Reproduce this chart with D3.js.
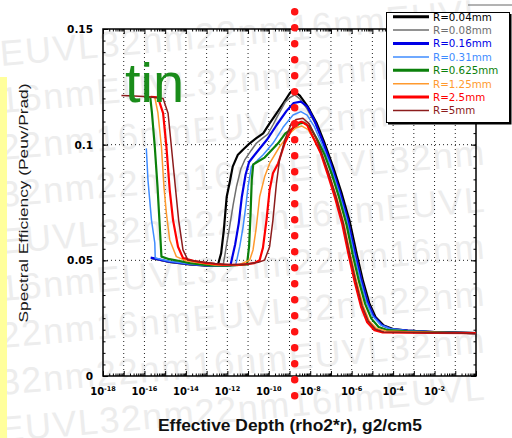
<!DOCTYPE html>
<html>
<head>
<meta charset="utf-8">
<script src="https://cdn.jsdelivr.net/npm/d3@7"></script>
<style>
body{margin:0;background:#fff;}
svg{display:block;font-family:"Liberation Sans",Arial,sans-serif;}
</style>
</head>
<body>
<div id="plot"></div>
<script>
//Spectral efficiency vs effective depth for tin, several radii

//series labels and colours
var labels = ['R=0.04mm','R=0.08mm','R=0.16mm','R=0.31mm','R=0.625mm','R=1.25mm','R=2.5mm','R=5mm'];
var colors = ['#000000','#6e6e6e','#0000e6','#3f8cff','#0b800b','#ff9a2e','#ff0000','#8c1c1c'];
var thick  = [true,false,true,false,true,false,true,false];

//each series: [log10 effective depth (g2/cm5), spectral efficiency]
var r004 = [[-15.65,0.0510],[-14.8,0.0493],[-13.8,0.0482],[-12.85,0.0476],[-12.46,0.0479],[-12.3,0.053],[-12.17,0.063],
  [-12.03,0.0775],[-11.89,0.0835],[-11.74,0.0905],[-11.5,0.0955],[-11.26,0.0977],[-10.92,0.1006],[-10.6,0.1028],
  [-10.27,0.1049],[-9.96,0.1092],[-9.62,0.1136],[-9.3,0.1179],[-8.99,0.1222],[-8.84,0.1236],[-8.5,0.1212],
  [-8.1,0.1162],[-7.7,0.1095],[-7.3,0.1005],[-6.9,0.0905],[-6.5,0.0795],[-6.1,0.067],[-5.75,0.0525],[-5.45,0.041],
  [-5.15,0.0315],[-4.85,0.0255],[-4.45,0.0218],[-4.0,0.0203],[-3.3,0.0196],[-2.0,0.0190],[0,0.0185]];
var r008 = [[-15.65,0.0508],[-14.8,0.0492],[-13.8,0.0481],[-12.85,0.0476],[-12.2,0.0478],[-12.05,0.056],[-11.89,0.0645],
  [-11.72,0.074],[-11.56,0.0818],[-11.35,0.0895],[-11.16,0.0934],[-10.85,0.0975],[-10.6,0.1006],[-10.3,0.1028],
  [-10.05,0.1045],[-9.8,0.1085],[-9.55,0.1128],[-9.2,0.1185],[-8.95,0.1205],[-8.75,0.1215],[-8.5,0.1198],
  [-8.15,0.1155],[-7.75,0.109],[-7.35,0.1],[-6.95,0.09],[-6.55,0.079],[-6.15,0.0665],[-5.8,0.0522],[-5.5,0.041],
  [-5.2,0.0315],[-4.9,0.0255],[-4.5,0.0218],[-4.05,0.0202],[-3.3,0.0195],[-2.0,0.0190],[0,0.0185]];
var r016 = [[-15.7,0.0512],[-14.8,0.0494],[-13.8,0.0483],[-12.85,0.0477],[-11.85,0.0478],[-11.62,0.057],[-11.45,0.066],
  [-11.3,0.0775],[-11.12,0.087],[-10.95,0.0925],[-10.6,0.0965],[-10.1,0.1020],[-9.62,0.1085],[-9.15,0.1145],
  [-8.8,0.118],[-8.45,0.1186],[-8.15,0.1165],[-7.8,0.1105],[-7.4,0.1015],[-7.0,0.0915],[-6.6,0.0805],[-6.2,0.068],
  [-5.85,0.0535],[-5.55,0.042],[-5.25,0.0322],[-4.95,0.026],[-4.55,0.022],[-4.1,0.0203],[-3.3,0.0196],[-2.0,0.0190],[0,0.0185]];
var r031 = [[-15.91,0.0984],[-15.83,0.0847],[-15.66,0.0674],[-15.5,0.0575],[-15.48,0.0510],[-14.8,0.0496],[-13.8,0.0484],
  [-12.85,0.0477],[-11.6,0.0478],[-11.4,0.056],[-11.24,0.0645],[-11.1,0.074],[-11.0,0.0818],[-10.84,0.0905],
  [-10.55,0.0932],[-10.28,0.0955],[-9.8,0.1006],[-9.31,0.1075],[-8.83,0.1128],[-8.45,0.1143],[-8.15,0.1128],
  [-7.8,0.1078],[-7.45,0.1005],[-7.05,0.0915],[-6.65,0.0805],[-6.25,0.068],[-5.9,0.0535],[-5.6,0.042],[-5.3,0.0322],
  [-5.0,0.026],[-4.6,0.0221],[-4.15,0.0204],[-3.3,0.0196],[-2.0,0.0190],[0,0.0185]];
var r0625 = [[-15.85,0.1207],[-15.72,0.1205],[-15.64,0.114],[-15.5,0.099],[-15.37,0.082],[-15.26,0.0645],[-15.18,0.0516],
  [-14.8,0.0505],[-14.3,0.0497],[-13.8,0.0488],[-12.85,0.0478],[-12.0,0.0477],[-11.05,0.0482],[-10.95,0.056],
  [-10.88,0.07],[-10.82,0.085],[-10.75,0.0915],[-10.2,0.0944],[-9.55,0.1006],[-9.2,0.1049],[-8.95,0.1064],
  [-8.5,0.1092],[-8.3,0.1095],[-8.0,0.1075],[-7.65,0.102],[-7.3,0.0955],[-6.95,0.087],[-6.6,0.077],[-6.25,0.0655],
  [-5.95,0.0525],[-5.65,0.041],[-5.35,0.0312],[-5.05,0.0248],[-4.7,0.0212],[-4.25,0.0198],[-3.3,0.0193],[-2.0,0.0189],[0,0.0185]];
var r125 = [[-15.75,0.1207],[-15.5,0.1205],[-15.35,0.1137],[-15.18,0.0991],[-15.06,0.0818],[-14.94,0.0703],[-14.78,0.0588],
  [-14.46,0.0516],[-14.0,0.0498],[-13.3,0.0488],[-12.6,0.048],[-11.5,0.0478],[-10.92,0.0501],[-10.76,0.0545],
  [-10.6,0.0645],[-10.44,0.0775],[-10.2,0.0861],[-9.96,0.0919],[-9.48,0.0991],[-8.99,0.1049],[-8.7,0.1072],
  [-8.42,0.1081],[-8.1,0.1065],[-7.75,0.1012],[-7.4,0.0945],[-7.05,0.086],[-6.7,0.0765],[-6.35,0.065],[-6.05,0.052],
  [-5.75,0.0405],[-5.45,0.0305],[-5.15,0.0238],[-4.8,0.0205],[-4.35,0.0195],[-3.3,0.0191],[-2.0,0.0188],[0,0.0185]];
var r25 = [[-15.7,0.1207],[-15.35,0.1205],[-15.1,0.1136],[-14.94,0.0991],[-14.78,0.0804],[-14.62,0.0674],[-14.38,0.0559],
  [-14.14,0.0510],[-13.6,0.0497],[-13.0,0.0488],[-12.2,0.0481],[-11.3,0.0481],[-10.7,0.0488],[-10.44,0.0501],
  [-10.28,0.0555],[-10.11,0.0674],[-9.96,0.0804],[-9.8,0.0876],[-9.55,0.0919],[-9.23,0.1006],[-8.91,0.1064],
  [-8.65,0.1092],[-8.42,0.1099],[-8.15,0.1085],[-7.85,0.103],[-7.5,0.0965],[-7.15,0.087],[-6.8,0.077],[-6.45,0.0655],
  [-6.15,0.0525],[-5.85,0.0405],[-5.55,0.030],[-5.25,0.0232],[-4.9,0.0198],[-4.5,0.0188],[-3.3,0.0187],[-2.0,0.0186],[0,0.0185]];
var r5 = [[-17.11,0.1212],[-16.5,0.1210],[-15.8,0.1207],[-15.1,0.1200],[-14.86,0.1136],[-14.7,0.0991],[-14.51,0.0818],
  [-14.35,0.0674],[-14.14,0.0545],[-13.9,0.0501],[-13.3,0.0494],[-12.6,0.0486],[-11.8,0.0481],[-11.0,0.0484],
  [-10.5,0.0492],[-10.2,0.0501],[-9.96,0.0559],[-9.8,0.0674],[-9.63,0.0833],[-9.48,0.0934],[-9.23,0.1020],
  [-8.91,0.1092],[-8.67,0.1109],[-8.35,0.1114],[-8.05,0.109],[-7.75,0.1035],[-7.45,0.0965],[-7.1,0.0875],[-6.75,0.0775],
  [-6.4,0.066],[-6.1,0.053],[-5.8,0.041],[-5.5,0.0305],[-5.2,0.0238],[-4.85,0.0202],[-4.45,0.019],[-3.0,0.0188],[-1.5,0.0186],[0,0.0184]];
var series = [r004,r008,r016,r031,r0625,r125,r25,r5];

//axes
var xExponents = d3.range(-18,1);            //decades, 10^-18 .. 10^0
var xLabelExponents = [-18,-16,-14,-12,-10,-8,-6,-4,-2];
var yTicks = [0,0.05,0.1,0.15];
var yTickLabels = ['0','0.05','0.1','0.15'];
var yGrid = [0.05,0.1];
var markerExponent = -8.75;                  //red dotted marker
var watermarkTokens = ['EUVL','32nm','22nm','16nm'];

var W = 512, H = 438;
var margin = {t:29,r:36,b:62,l:103};
var width = W-margin.l-margin.r,
	height = H-margin.t-margin.b;

var svg = d3.select('#plot').append('svg')
	.attr('width',W)
	.attr('height',H);

//faint background watermark, rows rise slightly to the right
var wm = svg.append('g')
	.style('font-size','36px').style('fill','#ededed');
for(var i=0; i<9; i++){
	var start = (4 - i%4)%4, s = '';
	for(var k=0; k<5; k++){ s += watermarkTokens[(start+k)%4]; }
	wm.append('text')
		.attr('transform','translate(1,'+(66+i*47)+') rotate(-5)')
		.attr('textLength',486).attr('lengthAdjust','spacing')
		.text(s);
}

//yellow strip at left
svg.append('rect').attr('x',0).attr('y',77).attr('width',7).attr('height',H-77).style('fill','#ffff9c');

var plot = svg.append('g')
	.attr('transform','translate('+margin.l+','+margin.t+')');

var x = d3.scaleLog().domain([1e-18,1]).range([0,width]);
var y = d3.scaleLinear().domain([0,0.15]).range([height,0]);

//dotted grid
plot.selectAll('.vgrid').data(xExponents.slice(1,-1)).enter().append('line')
	.attr('x1',function(e){return x(Math.pow(10,e));})
	.attr('x2',function(e){return x(Math.pow(10,e));})
	.attr('y1',0).attr('y2',height)
	.style('stroke','#222').style('stroke-width',1).style('stroke-dasharray','1,3');
plot.selectAll('.hgrid').data(yGrid).enter().append('line')
	.attr('x1',0).attr('x2',width)
	.attr('y1',function(v){return y(v);}).attr('y2',function(v){return y(v);})
	.style('stroke','#222').style('stroke-width',1).style('stroke-dasharray','1,3');

//ticks
var majorX = xExponents.map(function(e){return Math.pow(10,e);});
var minorX = [];
xExponents.slice(0,-1).forEach(function(e){
	for(var m=2; m<10; m++){ minorX.push(m*Math.pow(10,e)); }
});
var minorY = d3.range(0,0.1501,0.005);

function ticks(axis, vals, size, tx, ty){
	var g = plot.append('g').attr('transform','translate('+tx+','+ty+')')
		.call(axis.tickValues(vals).tickSize(size).tickFormat(''));
	g.select('.domain').remove();
	g.selectAll('line').style('stroke','#000');
	return g;
}
ticks(d3.axisBottom(x), majorX, -5, 0, height);
ticks(d3.axisBottom(x), minorX, -2.5, 0, height);
ticks(d3.axisTop(x), majorX, -5, 0, 0);
ticks(d3.axisTop(x), minorX, -2.5, 0, 0);
ticks(d3.axisLeft(y), minorY, -2.5, 0, 0);
ticks(d3.axisRight(y), minorY, -2.5, width, 0);
ticks(d3.axisRight(y), yTicks, -5, width, 0);

var yAxis = plot.append('g')
	.call(d3.axisLeft(y).tickValues(yTicks).tickSize(-5).tickPadding(10)
		.tickFormat(function(d,i){return yTickLabels[i];}));
yAxis.select('.domain').remove();
yAxis.selectAll('text')
	.style('font-family','"DejaVu Sans",sans-serif').style('font-weight','bold')
	.style('font-size','10.5px').style('fill','#000');

//x tick labels with exponents
var xl = plot.selectAll('.xl').data(xLabelExponents).enter().append('text')
	.attr('x',function(e){return x(Math.pow(10,e));})
	.attr('y',height+19)
	.attr('text-anchor','middle')
	.style('font-family','"DejaVu Sans",sans-serif').style('font-weight','bold')
	.style('font-size','10px');
xl.append('tspan').text('10');
xl.append('tspan').attr('dy',-4).style('font-size','6.5px').text(function(e){return e;});

//frame
plot.append('rect').attr('width',width).attr('height',height)
	.style('fill','none').style('stroke','#000').style('stroke-width',1.5);

//curves
var line = d3.line()
	.x(function(d){return x(Math.pow(10,d[0]));})
	.y(function(d){return y(d[1]);});

series.forEach(function(s,i){
	plot.append('path')
		.attr('d',line(s))
		.style('fill','none')
		.style('stroke',colors[i])
		.style('stroke-width',thick[i]?2.2:1.5)
		.style('stroke-linejoin','round');
});

//red dotted marker
var mx = x(Math.pow(10,markerExponent));
plot.append('line')
	.attr('x1',mx).attr('x2',mx)
	.attr('y1',-17.3).attr('y2',height+20)
	.style('stroke','#ff1414').style('stroke-width',7.5)
	.style('stroke-linecap','round').style('stroke-dasharray','0,16');

//element label
svg.append('text').attr('x',125).attr('y',102)
	.style('font-size','56px').style('fill','#1a8c1a').text('tin');

//axis titles
svg.append('text')
	.attr('transform','translate(28,203) rotate(-90)')
	.attr('text-anchor','middle')
	.attr('textLength',239).attr('lengthAdjust','spacingAndGlyphs')
	.style('font-size','13.5px').style('fill','#1a1a1a')
	.text('Spectral Efficiency (Peuv/Prad)');
svg.append('text')
	.attr('x',290).attr('y',431)
	.attr('text-anchor','middle')
	.attr('textLength',264).attr('lengthAdjust','spacingAndGlyphs')
	.style('font-size','17px').style('font-weight','bold').style('fill','#111')
	.text('Effective Depth (rho2*r), g2/cm5');

//legend
svg.append('line').attr('x1',468).attr('x2',512).attr('y1',5).attr('y2',5)
	.style('stroke','#666').style('stroke-width',1);
var leg = svg.append('g');
leg.append('rect').attr('x',386.5).attr('y',12.5).attr('width',123).attr('height',110)
	.style('fill','#fff').style('stroke','#000').style('stroke-width',1);
leg.append('path').attr('d','M510.5,14V123.5H388')
	.style('fill','none').style('stroke','#000').style('stroke-width',2);
labels.forEach(function(lab,i){
	var ly = 16.7 + i*13.4;
	leg.append('line').attr('x1',393).attr('x2',429).attr('y1',ly).attr('y2',ly)
		.style('stroke',colors[i]).style('stroke-width',thick[i]?3:1.5);
	leg.append('text').attr('x',433).attr('y',ly+3.8)
		.style('font-family','"DejaVu Sans",sans-serif').style('font-size','10.3px')
		.style('fill',colors[i]).text(lab);
});
</script>
</body>
</html>
